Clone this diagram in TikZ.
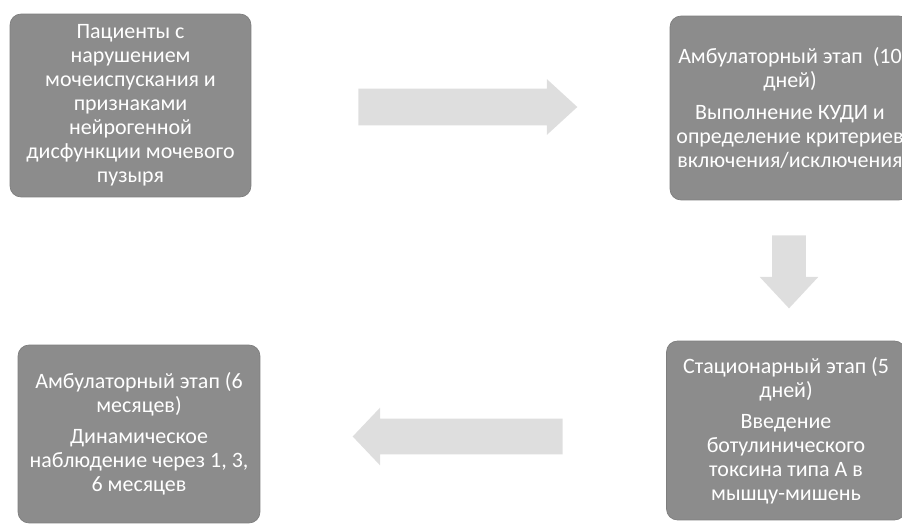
\documentclass[tikz,border=0pt]{standalone}
\usepackage{fontspec}
\setmainfont{Carlito}
\usetikzlibrary{shapes,shapes.arrows,positioning}
\definecolor{boxgray}{HTML}{8C8C8C}
\definecolor{arrgray}{HTML}{DEDEDE}

\begin{document}
\begin{tikzpicture}[x=0.02cm, y=-0.02cm,
     stage/.style={draw=boxgray!90!black, fill=boxgray, rounded corners=0.22cm, text=white,
       align=center, inner sep=0pt, font=\fontsize{12.5}{13.7}\selectfont},
     flow/.style={single arrow, fill=arrgray, draw=none, inner xsep=0pt, anchor=tail}]
     \useasboundingbox (0,0) rectangle (902,524);
     \clip (0,0) rectangle (902,524);

     \node[stage, minimum width=4.82cm, minimum height=3.66cm] (patients) at (130.5,105.5)
       {Пациенты с\\нарушением\\мочеиспускания и\\признаками\\нейрогенной\\дисфункции мочевого\\пузыря};
     \node[stage, minimum width=4.8cm, minimum height=3.68cm] (ambul1) at (790,108)
       {Амбулаторный этап~~(10\\дней)\\[4pt]Выполнение КУДИ и\\определение критериев\\включения/исключения};
     \node[stage, minimum width=4.78cm, minimum height=3.58cm] (stat) at (786,430.5)
       {Стационарный этап (5\\дней)\\[4pt]Введение\\ботулинического\\токсина типа А в\\мышцу-мишень};
     \node[stage, minimum width=4.84cm, minimum height=3.56cm] (ambul2) at (139,434)
       {Амбулаторный этап (6\\месяцев)\\[4pt]Динамическое\\наблюдение через 1, 3,\\6 месяцев};

     \node[flow, inner ysep=0.36cm, minimum height=4.38cm, single arrow head extend=0.19cm,
       single arrow tip angle=85] (go1) at (358,107) {};
     \node[flow, rotate=-90, inner ysep=0.33cm, minimum height=1.46cm, single arrow head extend=0.25cm,
       single arrow tip angle=86] (go2) at (789,235) {};
     \node[flow, rotate=180, inner ysep=0.35cm, minimum height=4.2cm, single arrow head extend=0.22cm,
       single arrow tip angle=93] (go3) at (563,436.5) {};
\end{tikzpicture}
\end{document}
